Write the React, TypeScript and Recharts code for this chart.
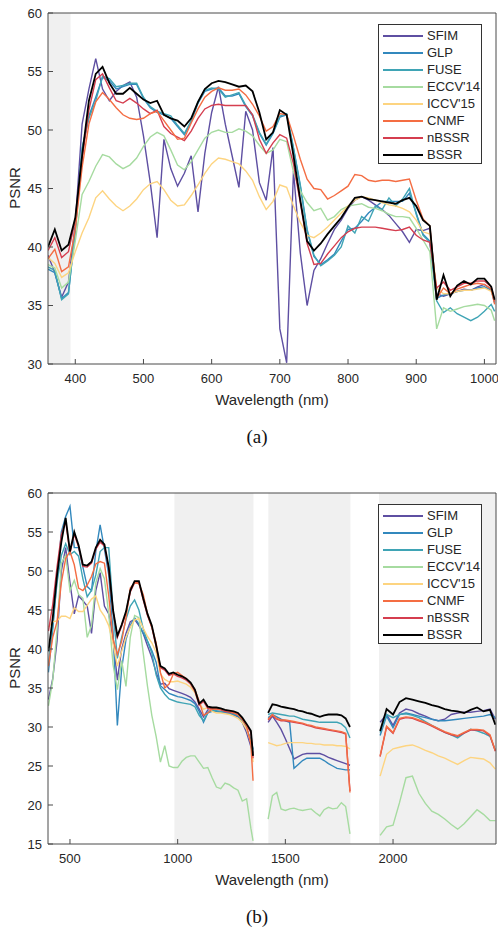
import React from 'react';
import { LineChart, Line, XAxis, YAxis, ReferenceArea } from 'recharts';

// ---- panel (a) ----
const wavelengthsA = [
  360, 370, 380, 390, 400, 410, 420, 430, 440, 450, 460, 470, 480, 490, 500, 510, 520, 530, 540, 550,
  560, 570, 580, 590, 600, 610, 620, 630, 640, 650, 660, 670, 680, 690, 700, 710, 720, 730, 740, 750,
  760, 770, 780, 790, 800, 810, 820, 830, 840, 850, 860, 870, 880, 890, 900, 910, 920, 930, 940, 950,
  960, 970, 980, 990, 1000, 1010, 1015,
];
const sfimA = [39.3, 37.8, 35.7, 37.0, 42.0, 50.5, 53.5, 56.1, 53.5, 52.5, 53.3, 53.8, 54.1, 52.8, 49.5, 45.5, 40.8, 49.2, 46.7, 45.2, 46.3, 47.8, 43.0, 48.0, 51.5, 53.7, 50.5, 47.8, 45.1, 51.6, 50.0, 45.5, 44.0, 48.5, 33.0, 30.1, 46.5, 39.5, 35.0, 38.0, 39.0, 40.3, 41.5, 42.3, 43.3, 44.0, 44.3, 44.0, 43.6, 43.2, 42.7, 42.0, 41.3, 40.4, 41.5, 41.4, 41.6, 36.0, 35.8, 36.0, 36.2, 36.4, 36.3, 36.6, 36.8, 36.4, 35.3];
const glpA = [38.1, 37.8, 35.6, 36.1, 41.3, 48.3, 51.2, 52.8, 54.5, 54.2, 53.5, 53.7, 53.9, 53.9, 52.7, 51.9, 51.5, 51.3, 51.0, 50.3, 49.6, 50.7, 52.3, 53.3, 53.5, 53.6, 52.9, 52.9, 53.1, 52.0, 51.2, 49.7, 48.7, 49.7, 51.1, 51.3, 48.4, 45.2, 41.4, 39.2, 38.5, 38.9, 39.4, 40.5, 41.5, 41.6, 42.2, 42.9, 43.4, 43.9, 43.9, 43.9, 43.9, 44.6, 42.9, 41.1, 40.5, 35.6, 35.9, 36.0, 36.2, 36.3, 36.3, 36.5, 36.6, 36.3, 35.2];
const fuseA = [38.3, 38.0, 35.5, 36.0, 41.5, 48.5, 51.0, 52.5, 54.6, 54.4, 53.7, 53.8, 54.0, 54.0, 52.8, 52.0, 51.6, 51.4, 51.2, 50.4, 49.7, 50.8, 52.4, 53.4, 53.6, 53.5, 52.8, 53.0, 53.2, 52.1, 51.3, 49.8, 48.8, 49.8, 51.2, 51.4, 48.5, 45.3, 41.5, 39.3, 38.4, 38.8, 39.3, 40.0, 41.8, 41.2, 42.6, 42.2, 43.5, 43.2, 44.2, 43.5, 44.1, 45.0, 42.8, 41.0, 40.4, 35.4, 34.4, 34.8, 34.3, 34.0, 33.7, 34.0, 34.5, 35.1, 34.5];
const eccvA = [38.5, 38.2, 36.5, 37.0, 40.5, 44.5, 45.6, 46.9, 47.9, 47.7, 47.1, 46.7, 47.0, 47.6, 48.6, 49.4, 49.8, 49.5, 48.3, 47.0, 46.6, 47.3, 48.3, 49.3, 49.8, 50.0, 49.8, 49.8, 50.1, 49.9, 49.5, 48.7, 48.0, 48.3, 49.2, 49.0, 46.4, 44.8, 43.8, 43.1, 43.3, 42.3, 42.6, 43.2, 43.5, 43.6, 43.7, 43.4, 43.3, 43.1, 42.8, 42.6, 42.6, 42.5, 41.6, 40.6, 39.6, 33.0, 34.8, 34.5, 34.7, 34.9, 35.0, 35.1, 35.0, 34.6, 33.7];
const iccvA = [39.1, 38.6, 37.4, 37.8, 39.6, 41.2, 42.5, 44.2, 44.8, 44.1, 43.5, 43.1, 43.5, 44.1, 44.9, 45.4, 45.6, 44.9, 44.0, 43.5, 43.6, 44.4, 45.3, 46.3, 47.1, 47.6, 47.5, 47.3, 47.1, 46.5, 45.7, 44.3, 43.2, 43.9, 45.3, 45.1, 43.5, 42.1, 41.0, 40.8, 41.2, 41.7, 42.3, 42.9, 43.5, 44.0, 44.3, 44.2, 44.0, 43.8, 43.6, 43.5, 43.3, 43.0, 42.3, 41.3, 41.1, 36.5, 36.0, 36.0, 36.2, 36.3, 36.3, 36.4, 36.5, 36.2, 35.4];
const cnmfA = [39.0, 39.8, 37.9, 38.3, 41.5, 46.8, 50.5, 52.4, 53.2, 52.6, 51.9, 51.3, 51.0, 50.9, 51.0, 51.4, 51.6, 50.8, 50.0, 49.2, 49.3, 50.6, 51.8, 52.8, 53.3, 53.6, 53.4, 53.4, 53.5, 53.0, 52.2, 51.2, 49.9, 50.3, 51.4, 51.3, 49.5, 47.5, 45.8, 45.0, 44.9, 44.1, 44.4, 44.8, 45.2, 46.2, 46.1, 45.7, 45.6, 45.7, 45.7, 45.6, 45.7, 45.8, 44.0, 42.4, 41.8, 35.6, 36.5, 36.0, 36.4, 36.6, 36.8, 36.9, 36.8, 36.4, 35.1];
const nbssrA = [39.7, 40.8, 39.1, 39.6, 42.3, 47.5, 51.7, 54.3, 54.8, 53.6, 52.5, 52.3, 52.7, 52.3, 51.8, 51.4, 51.7, 50.3, 49.7, 49.4, 49.1, 49.9, 51.0, 51.8, 52.1, 52.2, 52.1, 52.1, 52.1, 52.1, 51.3, 49.2, 48.0, 48.9, 49.6, 49.3, 47.1, 43.8, 40.3, 38.5, 38.6, 39.4, 40.1, 40.8, 41.3, 41.6, 41.7, 41.7, 41.7, 41.6, 41.5, 41.4, 41.5, 41.7, 41.0, 40.6, 40.4, 36.5, 37.0, 36.3, 36.6, 36.9, 36.9, 37.1, 37.1, 36.6, 35.4];
const bssrA = [40.0, 41.5, 39.7, 40.2, 42.5, 47.8, 52.5, 54.8, 55.4, 54.0, 53.1, 53.1, 53.6, 53.1, 52.6, 52.3, 52.5, 51.3, 51.0, 50.8, 50.3, 51.0, 52.4, 53.5, 54.0, 54.2, 54.1, 53.9, 53.7, 53.8, 53.3, 51.5, 49.2, 49.8, 51.7, 51.3, 47.8, 44.0, 40.5, 39.7, 40.3, 41.1, 41.8, 42.5, 43.4, 44.2, 44.3, 44.1, 44.0, 43.9, 43.8, 43.7, 44.0, 44.2, 43.5, 42.3, 41.8, 35.5, 37.6, 35.8, 36.7, 37.1, 36.8, 37.3, 37.3, 36.6, 35.5];

// ---- panel (b) ---- (null rows split the three measured bands)
const wavelengthsB = [
  400, 420, 440, 460, 480, 500, 520, 540, 560, 580, 600, 620, 640, 660, 680, 700, 720, 740, 760, 780,
  800, 820, 840, 860, 880, 900, 920, 940, 960, 980, 1000, 1020, 1040, 1060, 1080, 1100, 1120, 1140, 1160, 1180,
  1200, 1220, 1240, 1260, 1280, 1300, 1320, 1340, 1350,
  1385,
  1420, 1440, 1460, 1480, 1500, 1520, 1540, 1560, 1580, 1600, 1620, 1640, 1660, 1680, 1700, 1720, 1740, 1760, 1780, 1800,
  1870,
  1940, 1970, 2000, 2030, 2060, 2090, 2120, 2150, 2180, 2210, 2240, 2270, 2300, 2330, 2360, 2390, 2420, 2450, 2475,
];
const sfimB = [
  33.5, 36.2, 41.0, 50.0, 53.0, 48.5, 44.5, 46.8, 46.2, 45.5, 42.0, 47.5, 49.8, 45.5, 44.5, 41.5, 36.0, 40.0, 42.0, 43.5, 43.8, 43.0, 42.0, 40.4, 38.9, 37.0, 35.5, 35.6, 34.9, 34.7, 34.5, 34.3, 34.1, 33.8, 33.2, 32.3, 31.3, 32.2, 32.2, 32.0, 31.9, 31.8, 31.8, 31.5, 31.3, 30.6, 29.3, 27.5, 26.7,
  null,
  30.6, 31.4, 30.6, 29.7, 28.5, 27.2, 25.9, 26.2, 26.5, 26.6, 26.6, 26.6, 26.6, 26.4, 26.1, 25.9, 25.7, 25.5, 25.3, 25.1,
  null,
  30.6, 31.6, 30.2, 31.8, 32.3, 32.1, 31.7, 31.4, 31.0, 30.8, 31.0, 31.6, 31.8, 31.9, 31.9, 32.0, 32.1, 32.3, 31.0,
];
const glpB = [
  37.0, 42.5, 49.0, 55.0, 57.0, 58.3, 53.0, 53.0, 50.5, 48.0, 47.5, 52.5, 55.9, 52.8, 49.5, 42.2, 30.2, 37.5, 41.2, 43.0, 44.0, 43.2, 42.0, 41.0, 39.8, 38.3, 35.3, 34.8, 34.3, 34.1, 33.9, 33.8, 33.6, 33.4, 33.0, 32.0, 30.6, 31.8, 32.0, 32.0, 31.9, 31.8, 31.7, 31.6, 31.4, 30.8, 29.8, 28.3, 27.2,
  null,
  31.2, 31.6, 31.3, 31.0, 30.8, 30.6, 24.7, 25.2, 25.7, 26.0, 26.0, 26.0, 26.0, 25.7, 25.3, 25.0, 24.7, 24.6, 24.5, 24.5,
  null,
  28.9, 31.4, 29.9, 31.6, 31.8, 31.6, 31.4, 31.2, 31.0, 30.8, 30.8, 30.9, 31.0, 31.1, 31.2, 31.3, 31.4, 31.6, 31.2,
];
const fuseB = [
  38.0, 43.0, 48.5, 52.0, 53.5, 52.1, 52.5, 51.9, 49.0, 46.7, 47.5, 49.5, 52.5, 53.0, 53.0, 45.0, 38.8, 41.5, 43.8, 45.5, 46.3, 45.0, 42.6, 41.0, 39.5, 36.7, 35.0, 34.2, 33.6, 33.4, 33.2, 33.1, 33.0, 32.9, 32.6, 31.5, 30.8, 31.9, 32.1, 32.1, 32.0, 32.0, 31.9, 31.7, 31.5, 30.7, 29.8, 28.2, 27.0,
  null,
  31.6, 31.8, 31.7, 31.6, 31.5, 31.4, 31.4, 31.2, 31.0, 30.9, 30.8, 30.7, 30.6, 30.6, 30.6, 30.6, 30.6, 30.4, 29.9, 28.6,
  null,
  29.3, 31.6, 31.2, 31.6, 31.7, 31.5, 31.2, 30.7, 30.2, 29.8, 29.3, 29.0, 28.6, 29.2, 29.7, 29.5, 29.2, 28.8, 27.0,
];
const eccvB = [
  32.7, 36.0, 42.5, 51.0, 52.0, 47.5, 48.8, 47.0, 46.5, 41.5, 43.0, 48.5, 50.3, 49.0, 44.5, 38.0, 34.8, 38.5, 35.2, 41.5, 44.3, 44.0, 39.5, 35.2, 31.5, 28.8, 25.5, 27.6, 25.0, 24.8, 24.8, 25.6, 26.1, 26.3, 26.3, 25.5, 24.7, 24.8, 23.5, 22.3, 22.1, 22.8, 22.6, 22.2, 21.9, 20.5, 20.8, 17.0, 15.4,
  null,
  18.2, 21.2, 21.6, 19.5, 19.3, 19.5, 19.6, 19.4, 19.3, 19.4, 19.5, 19.0, 18.6, 19.4, 19.7, 19.5, 19.6, 20.3, 19.8, 16.3,
  null,
  16.1, 17.2, 17.4, 20.3, 23.5, 23.7, 21.5, 20.2, 19.2, 18.8, 18.2, 17.5, 16.9, 17.6, 18.5, 19.4, 18.8, 18.0, 18.0,
];
const iccvB = [
  42.8, 43.5, 43.6, 44.2, 44.2, 43.9, 45.3, 44.8, 44.8, 45.6, 46.4, 46.8, 45.0, 44.2, 43.0, 40.7, 37.8, 39.7, 41.5, 42.8, 43.7, 43.9, 42.7, 41.6, 40.8, 39.6, 36.8, 36.1, 35.8, 35.8, 35.9, 35.7, 35.5, 35.1, 34.4, 33.0, 32.3, 32.5, 32.0, 31.8, 31.8, 31.7, 31.6, 31.4, 31.1, 30.6, 29.7, 28.0, 25.5,
  null,
  28.0, 27.8, 27.6, 27.7, 27.9, 28.0, 28.0, 28.0, 28.0, 27.9, 27.9, 27.8, 27.8, 27.7, 27.7, 27.7, 27.6, 27.6, 27.5, 27.2,
  null,
  23.7, 26.5, 27.2, 27.4, 27.6, 27.7, 27.4, 27.0, 26.7, 26.3, 26.0, 25.6, 25.2, 25.7, 26.1, 26.0, 25.9, 25.4, 24.6,
];
const cnmfB = [
  37.8, 41.5, 43.5, 48.5, 51.6, 52.5, 50.8, 47.8, 47.5, 48.2, 49.3, 50.9, 51.2, 51.0, 46.8, 41.3, 39.3, 41.0, 44.0, 47.8, 48.5, 48.4, 47.0, 44.5, 42.8, 40.8, 37.0, 35.0, 35.5, 36.8, 37.0, 36.6, 36.2, 35.6, 34.8, 33.3, 31.5, 31.8, 32.3, 32.3, 32.3, 32.2, 32.0, 31.8, 31.6, 31.0, 30.1, 27.8, 23.1,
  null,
  31.0, 31.6, 31.1, 30.9, 30.9, 30.8, 30.7, 30.6, 30.5, 30.3, 30.2, 30.0, 29.9, 29.8, 29.7, 29.6, 29.5, 29.4, 29.2, 21.6,
  null,
  26.3, 30.1, 29.3, 31.1, 31.3, 31.2, 30.9, 30.6, 30.2, 29.8, 29.4, 29.1, 28.9, 29.3, 29.7, 29.7, 29.6, 29.0, 27.0,
];
const nbssrB = [
  42.3, 45.7, 50.5, 54.6, 56.4, 52.3, 54.7, 53.1, 50.6, 50.5, 51.0, 52.8, 53.7, 53.2, 50.3, 44.8, 41.5, 42.9, 44.6, 47.3, 48.5, 48.5, 46.3, 44.3, 42.8, 40.3, 37.6, 37.3, 36.6, 36.8, 36.5, 36.3, 36.0, 35.5, 34.6, 32.8, 33.3, 32.4, 32.3, 32.3, 32.2, 32.0, 31.9, 31.8, 31.6, 31.0, 30.2, 29.3, 26.0,
  null,
  30.9, 31.5, 31.0, 30.8, 30.8, 30.7, 30.6, 30.5, 30.4, 30.2, 30.1, 29.9, 29.8, 29.7, 29.6, 29.5, 29.4, 29.3, 29.1, 21.8,
  null,
  26.2, 30.0, 29.2, 31.0, 31.2, 31.1, 30.8, 30.5, 30.1, 29.7, 29.3, 29.0, 28.8, 29.2, 29.6, 29.6, 29.5, 28.9, 26.9,
];
const bssrB = [
  39.7, 44.0, 49.5, 53.7, 56.8, 52.5, 55.0, 53.3, 50.8, 50.7, 51.2, 53.0, 54.0, 53.4, 50.5, 45.0, 41.7, 43.1, 44.8, 47.5, 48.7, 48.7, 46.5, 44.5, 43.0, 40.5, 37.8, 37.5, 36.8, 37.0, 36.7, 36.5, 36.2, 35.7, 34.8, 33.0, 33.5, 32.6, 32.5, 32.5, 32.4, 32.2, 32.1, 32.0, 31.8, 31.2, 30.4, 29.5, 26.3,
  null,
  31.8, 32.9, 32.8, 32.6, 32.5, 32.4, 32.3, 32.1, 32.0, 31.8, 31.7, 31.5, 31.3, 31.5, 31.6, 31.6, 31.6, 31.5, 31.1, 30.0,
  null,
  29.5, 32.3, 31.6, 33.2, 33.7, 33.5, 33.3, 33.1, 32.8, 32.6, 32.3, 32.1, 32.0, 31.8, 32.2, 32.5, 32.0, 32.2, 30.3,
];

const methods = ['SFIM', 'GLP', 'FUSE', "ECCV'14", "ICCV'15", 'CNMF', 'nBSSR', 'BSSR'];
const colors = ['#5e4fa2', '#3288bd', '#3fa4b5', '#a6dba0', '#fdd480', '#f46d43', '#d53e4f', '#000000'];
// draw nBSSR under CNMF so it hides where the two coincide
const drawOrder = [0, 1, 2, 3, 4, 6, 5, 7];

const ticksA = [400, 500, 600, 700, 800, 900, 1000];
const yTicksA = [30, 35, 40, 45, 50, 55, 60];
const ticksB = [500, 1000, 1500, 2000];
const yTicksB = [15, 20, 25, 30, 35, 40, 45, 50, 55, 60];

const shadeA = [[360, 393]];
const shadeB = [[985, 1352], [1421, 1802], [1935, 2478]];

function buildRows(xs: number[], cols: (number | null)[][]) {
  return xs.map((w, i) => {
    const row: Record<string, number | null> = { w };
    methods.forEach((m, k) => {
      row[m] = cols[k][i];
    });
    return row;
  });
}

const rowsA = buildRows(wavelengthsA, [sfimA, glpA, fuseA, eccvA, iccvA, cnmfA, nbssrA, bssrA]);
const rowsB = buildRows(wavelengthsB, [sfimB, glpB, fuseB, eccvB, iccvB, cnmfB, nbssrB, bssrB]);

const FONT = '"Liberation Sans", Arial, sans-serif';
const AXIS = '#4a4a4a';
const tickStyle = { fill: '#262626', fontSize: 13, fontFamily: FONT };

function MethodLegend({ top }: { top: number }) {
  return (
    <div
      style={{
        position: 'absolute', left: 378, top, width: 104, height: 140, boxSizing: 'border-box',
        border: '1px solid #333', background: '#fff', paddingTop: 2,
        fontFamily: FONT, fontSize: 13, color: '#262626',
      }}
    >
      {methods.map((m, i) => (
        <div key={m} style={{ height: 17, display: 'flex', alignItems: 'center' }}>
          <div style={{ marginLeft: 4, width: 40, height: 2, flexShrink: 0, backgroundColor: colors[i] }} />
          <span style={{ marginLeft: 4, lineHeight: '17px' }}>{m}</span>
        </div>
      ))}
    </div>
  );
}

function Panel(props: {
  top: number; rows: any[]; xDomain: number[]; xTicks: number[]; yDomain: number[]; yTicks: number[];
  shade: number[][]; caption: string;
}) {
  const { top, rows, xDomain, xTicks, yDomain, yTicks, shade, caption } = props;
  return (
    <div style={{ position: 'absolute', left: 0, top, width: 498, height: 460 }}>
      <LineChart width={498} height={420} data={rows} margin={{ top: 12, right: 1, left: 8, bottom: 0 }}>
        {shade.map(([a, b]) => (
          <ReferenceArea key={a} x1={a} x2={b} fill="#f0f0f0" fillOpacity={1} stroke="none" ifOverflow="hidden" />
        ))}
        <XAxis
          dataKey="w" type="number" domain={xDomain} allowDataOverflow ticks={xTicks}
          height={56} stroke={AXIS} tickSize={-5} tickMargin={15} tick={tickStyle}
        />
        <XAxis
          xAxisId="top" orientation="top" type="number" domain={xDomain} allowDataOverflow ticks={xTicks}
          height={1} stroke={AXIS} tickSize={-5} tickFormatter={() => ''}
        />
        <YAxis
          type="number" domain={yDomain} allowDataOverflow ticks={yTicks}
          width={40} stroke={AXIS} tickSize={-5} tickMargin={11} tick={tickStyle}
        />
        <YAxis
          yAxisId="right" orientation="right" type="number" domain={yDomain} ticks={yTicks}
          width={1} stroke={AXIS} tickSize={-5} tickFormatter={() => ''}
        />
        {drawOrder.map((k) => (
          <Line
            key={methods[k]}
            dataKey={methods[k]}
            type="linear"
            stroke={colors[k]}
            strokeWidth={k === 7 ? 1.8 : 1.4}
            dot={false}
            activeDot={false}
            connectNulls={false}
            isAnimationActive={false}
          />
        ))}
      </LineChart>
      <div
        style={{
          position: 'absolute', left: 14, top: 188, transform: 'translate(-50%, -50%) rotate(-90deg)',
          fontFamily: FONT, fontSize: 15, color: '#262626', whiteSpace: 'nowrap',
        }}
      >
        PSNR
      </div>
      <div
        style={{
          position: 'absolute', left: 272, top: 399, transform: 'translate(-50%, -50%)',
          fontFamily: FONT, fontSize: 15, color: '#262626', whiteSpace: 'nowrap',
        }}
      >
        Wavelength (nm)
      </div>
      <div
        style={{
          position: 'absolute', left: 257, top: 437, transform: 'translate(-50%, -50%)',
          fontFamily: '"Liberation Serif", "Times New Roman", serif', fontSize: 19, color: '#111', whiteSpace: 'nowrap',
        }}
      >
        {caption}
      </div>
      <MethodLegend top={24} />
    </div>
  );
}

export default function App() {
  return (
    <div style={{ position: 'absolute', left: 0, top: 0, width: 498, height: 931, background: '#fff', overflow: 'hidden' }}>
      <Panel
        top={0} rows={rowsA} xDomain={[360, 1017]} xTicks={ticksA} yDomain={[30, 60]} yTicks={yTicksA}
        shade={shadeA} caption="(a)"
      />
      <Panel
        top={480} rows={rowsB} xDomain={[398, 2478]} xTicks={ticksB} yDomain={[15, 60]} yTicks={yTicksB}
        shade={shadeB} caption="(b)"
      />
    </div>
  );
}
